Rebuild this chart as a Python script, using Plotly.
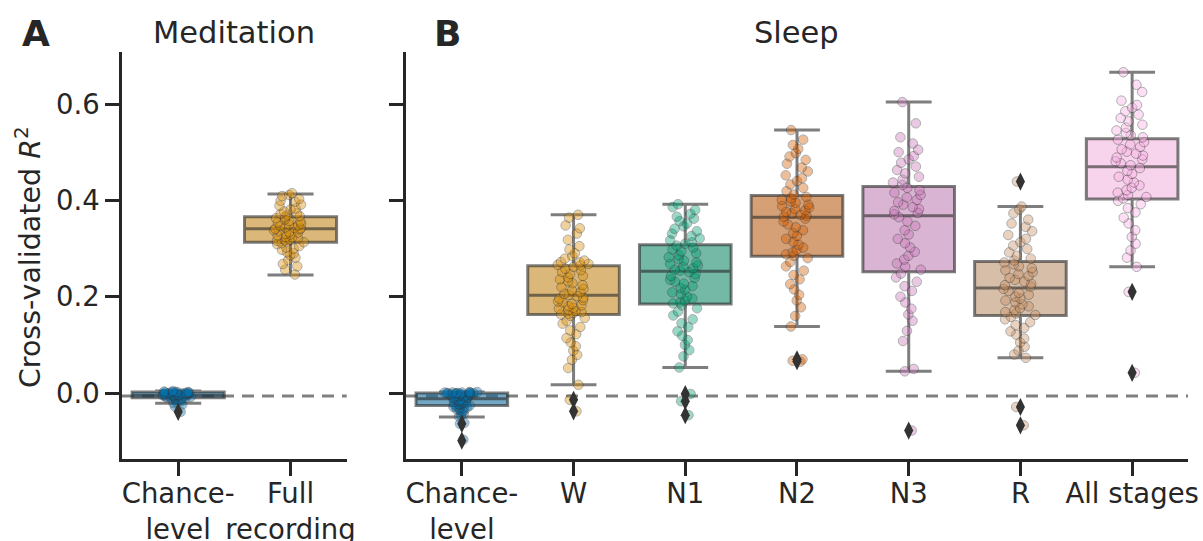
import colorsys
import plotly.graph_objects as go

FONT = "DejaVu Sans"
INK = "#262626"

# ---------------- categories / labels ----------------
med_cats = ["Chance-level", "Full recording"]
med_labels = ["Chance-<br>level", "Full<br>recording"]
sleep_cats = ["Chance-level", "W", "N1", "N2", "N3", "R", "All stages"]
sleep_labels = ["Chance-<br>level", "W", "N1", "N2", "N3", "R", "All stages"]

med_colors = ["#0173b2", "#de8f05"]
sleep_colors = ["#0173b2", "#de8f05", "#029e73", "#d55e00", "#cc78bc", "#ca9161", "#fbafe4"]

# ---------------- box statistics ----------------
med_q1 = [-0.010, 0.313]
med_median = [-0.005, 0.341]
med_q3 = [0.002, 0.366]
med_low = [-0.021, 0.245]
med_high = [0.004, 0.413]

sleep_q1 = [-0.026, 0.163, 0.185, 0.284, 0.252, 0.161, 0.403]
sleep_median = [-0.012, 0.203, 0.253, 0.365, 0.368, 0.218, 0.470]
sleep_q3 = [0.000, 0.264, 0.308, 0.410, 0.429, 0.273, 0.528]
sleep_low = [-0.050, 0.017, 0.053, 0.138, 0.045, 0.073, 0.262]
sleep_high = [0.002, 0.370, 0.392, 0.546, 0.604, 0.387, 0.666]

# ---------------- outliers ----------------
med_out_cat = ["Chance-level"]
med_out_val = [-0.039]
sleep_out_cat = ["Chance-level", "Chance-level", "W", "W", "N1", "N1", "N1",
                 "N2", "N2", "N3", "R", "R", "R", "All stages", "All stages"]
sleep_out_val = [-0.064, -0.099, -0.014, -0.038, -0.002, -0.017, -0.046,
                 0.066, 0.070, -0.078, 0.439, -0.029, -0.067, 0.210, 0.042]

# ---------------- individual subject values ----------------
med_chance_pts = [0.003, 0.002, 0.001, 0.002, 0.000, -0.001, 0.002, 0.001, -0.002, -0.003,
                  0.000, -0.004, -0.005, -0.006, -0.005, -0.004, -0.007, -0.006, -0.005, -0.008,
                  -0.009, -0.010, -0.011, -0.012, -0.013, -0.015, -0.017, -0.019, -0.021, -0.039,
                  -0.003, -0.001, 0.001, -0.006, -0.008, -0.010, -0.014, -0.002, -0.004, -0.007,
                  0.004, -0.024, -0.028, 0.000, -0.003]
med_full_pts = [0.415, 0.411, 0.409, 0.403, 0.399, 0.397, 0.391, 0.389, 0.383, 0.381,
                0.377, 0.373, 0.372, 0.369, 0.367, 0.365, 0.363, 0.360, 0.357, 0.356,
                0.354, 0.351, 0.350, 0.348, 0.347, 0.344, 0.343, 0.342, 0.341, 0.340,
                0.338, 0.337, 0.334, 0.333, 0.330, 0.329, 0.327, 0.324, 0.323, 0.321,
                0.318, 0.317, 0.316, 0.314, 0.313, 0.311, 0.309, 0.305, 0.302, 0.300,
                0.297, 0.292, 0.290, 0.286, 0.281, 0.276, 0.268, 0.263, 0.256, 0.246]

sleep_chance_pts = [0.002, 0.001, 0.000, 0.001, 0.002, 0.000, 0.001, 0.000, -0.001, 0.001,
                    -0.001, -0.002, -0.003, -0.004, -0.005, -0.006, -0.007, -0.008, -0.009, -0.010,
                    -0.011, -0.002, -0.004, -0.006, -0.013, -0.014, -0.015, -0.016, -0.017, -0.018,
                    -0.019, -0.020, -0.021, -0.022, -0.023, -0.024, -0.025, -0.026, -0.028, -0.030,
                    -0.032, -0.034, -0.037, -0.040, -0.043, -0.046, -0.049, -0.062, -0.064, -0.097,
                    -0.029, -0.031, -0.035, -0.001, 0.000]
w_pts = [0.370, 0.364, 0.348, 0.342, 0.331, 0.318, 0.305, 0.298, 0.290, 0.284,
         0.279, 0.275, 0.271, 0.268, 0.266, 0.265, 0.272, 0.262, 0.258, 0.255,
         0.251, 0.247, 0.243, 0.240, 0.236, 0.232, 0.228, 0.224, 0.220, 0.216,
         0.213, 0.209, 0.206, 0.204, 0.201, 0.198, 0.196, 0.193, 0.190, 0.188,
         0.185, 0.182, 0.180, 0.177, 0.175, 0.172, 0.170, 0.168, 0.166, 0.164,
         0.163, 0.160, 0.156, 0.150, 0.144, 0.137, 0.130, 0.122, 0.114, 0.105,
         0.097, 0.088, 0.079, 0.069, 0.052, 0.017, -0.014, -0.038]
n1_pts = [0.392, 0.386, 0.380, 0.372, 0.366, 0.362, 0.357, 0.352, 0.346, 0.341,
          0.336, 0.331, 0.326, 0.321, 0.317, 0.313, 0.310, 0.306, 0.302, 0.298,
          0.294, 0.290, 0.286, 0.282, 0.278, 0.275, 0.271, 0.268, 0.265, 0.262,
          0.259, 0.256, 0.254, 0.251, 0.247, 0.243, 0.239, 0.235, 0.231, 0.227,
          0.222, 0.218, 0.214, 0.209, 0.205, 0.200, 0.196, 0.192, 0.188, 0.186,
          0.182, 0.176, 0.169, 0.161, 0.153, 0.145, 0.137, 0.128, 0.119, 0.110,
          0.100, 0.089, 0.076, 0.053, -0.002, -0.017, -0.046]
n2_pts = [0.546, 0.526, 0.515, 0.507, 0.498, 0.491, 0.484, 0.476, 0.468, 0.460,
          0.452, 0.446, 0.440, 0.433, 0.426, 0.419, 0.412, 0.407, 0.404, 0.401,
          0.398, 0.395, 0.391, 0.388, 0.385, 0.382, 0.379, 0.376, 0.373, 0.370,
          0.368, 0.366, 0.362, 0.356, 0.350, 0.344, 0.338, 0.332, 0.326, 0.320,
          0.314, 0.308, 0.302, 0.297, 0.292, 0.288, 0.285, 0.280, 0.272, 0.263,
          0.254, 0.245, 0.236, 0.226, 0.215, 0.204, 0.192, 0.178, 0.160, 0.138,
          0.070, 0.067, 0.065]
n3_pts = [0.604, 0.560, 0.531, 0.518, 0.505, 0.500, 0.492, 0.485, 0.478, 0.470,
          0.463, 0.456, 0.449, 0.443, 0.437, 0.432, 0.426, 0.421, 0.416, 0.411,
          0.406, 0.401, 0.396, 0.391, 0.386, 0.382, 0.378, 0.374, 0.371, 0.365,
          0.356, 0.347, 0.338, 0.329, 0.320, 0.311, 0.302, 0.293, 0.285, 0.277,
          0.269, 0.262, 0.256, 0.248, 0.240, 0.231, 0.222, 0.212, 0.200, 0.188,
          0.175, 0.163, 0.150, 0.129, 0.108, 0.050, 0.045, -0.078]
r_pts = [0.439, 0.387, 0.381, 0.373, 0.360, 0.352, 0.345, 0.336, 0.328, 0.320,
         0.313, 0.306, 0.299, 0.292, 0.285, 0.279, 0.275, 0.271, 0.267, 0.263,
         0.259, 0.255, 0.251, 0.247, 0.243, 0.239, 0.235, 0.231, 0.227, 0.224,
         0.221, 0.216, 0.212, 0.208, 0.204, 0.200, 0.196, 0.192, 0.188, 0.184,
         0.180, 0.176, 0.172, 0.168, 0.165, 0.162, 0.158, 0.153, 0.147, 0.141,
         0.135, 0.128, 0.121, 0.113, 0.105, 0.096, 0.088, 0.080, 0.073, -0.029,
         -0.067]
all_pts = [0.666, 0.640, 0.625, 0.607, 0.598, 0.592, 0.585, 0.578, 0.571, 0.564,
           0.557, 0.551, 0.545, 0.540, 0.535, 0.531, 0.526, 0.521, 0.516, 0.511,
           0.506, 0.501, 0.497, 0.493, 0.489, 0.485, 0.481, 0.477, 0.473, 0.467,
           0.461, 0.455, 0.449, 0.443, 0.437, 0.431, 0.426, 0.421, 0.416, 0.411,
           0.407, 0.404, 0.399, 0.392, 0.384, 0.375, 0.364, 0.352, 0.338, 0.324,
           0.310, 0.296, 0.281, 0.262, 0.210, 0.042]

med_pts = [med_chance_pts, med_full_pts]
sleep_pts = [sleep_chance_pts, w_pts, n1_pts, n2_pts, n3_pts, r_pts, all_pts]

chance_line = -0.006


def rgba(hexc, a, sat=1.0):
    h = hexc.lstrip("#")
    r, g, b = int(h[0:2], 16) / 255, int(h[2:4], 16) / 255, int(h[4:6], 16) / 255
    if sat != 1.0:
        hh, ll, ss = colorsys.rgb_to_hls(r, g, b)
        r, g, b = colorsys.hls_to_rgb(hh, ll, ss * sat)
    return f"rgba({round(r * 255)},{round(g * 255)},{round(b * 255)},{a})"


BOX_W = 0.82
fig = go.Figure()


def add_panel(cats, colors, q1, med, q3, lo, hi, pts, out_cat, out_val, xa, ya):
    # boxes
    for i, c in enumerate(cats):
        fig.add_trace(go.Box(
            x=[c], q1=[q1[i]], median=[med[i]], q3=[q3[i]],
            lowerfence=[lo[i]], upperfence=[hi[i]],
            boxpoints=False, width=BOX_W, whiskerwidth=0.5,
            fillcolor=rgba(colors[i], 0.6, sat=0.75),
            line=dict(color="rgba(40,40,40,0.6)", width=3),
            xaxis=xa, yaxis=ya, showlegend=False, hoverinfo="skip"))
    # outliers
    fig.add_trace(go.Scatter(
        x=out_cat, y=out_val, mode="markers",
        marker=dict(symbol="diamond-tall", size=13, color="#333333"),
        xaxis=xa, yaxis=ya, showlegend=False, hoverinfo="skip"))
    # strip points
    for i, c in enumerate(cats):
        fig.add_trace(go.Box(
            x=[c] * len(pts[i]), y=pts[i],
            boxpoints="all", jitter=0.4, pointpos=0, width=BOX_W,
            fillcolor="rgba(0,0,0,0)",
            line=dict(color="rgba(0,0,0,0)", width=0),
            marker=dict(size=9.5, color=colors[i], opacity=0.4,
                        line=dict(color="#333333", width=1)),
            xaxis=xa, yaxis=ya, showlegend=False, hoverinfo="y"))


add_panel(med_cats, med_colors, med_q1, med_median, med_q3, med_low, med_high,
          med_pts, med_out_cat, med_out_val, "x", "y")
add_panel(sleep_cats, sleep_colors, sleep_q1, sleep_median, sleep_q3, sleep_low, sleep_high,
          sleep_pts, sleep_out_cat, sleep_out_val, "x2", "y2")

axis_common = dict(showline=True, linewidth=2.5, linecolor=INK, ticks="outside",
                   ticklen=14, tickwidth=2.5, tickcolor=INK, showgrid=False,
                   zeroline=False, automargin=False, tickangle=0,
                   tickfont=dict(family=FONT, size=27.5, color=INK))

yr = [-0.137, 0.708]
fig.update_layout(
    width=1203, height=541,
    margin=dict(l=122, r=15, t=52, b=82),
    paper_bgcolor="white", plot_bgcolor="white",
    boxmode="overlay",
    font=dict(family=FONT, color=INK),
    xaxis=dict(domain=[0, 0.2108], anchor="y", type="category",
               categoryorder="array", categoryarray=med_cats, ticklabelstandoff=-6,
               tickvals=med_cats, ticktext=med_labels, range=[-0.5, 1.5], **axis_common),
    xaxis2=dict(domain=[0.2664, 1], anchor="y2", type="category",
                categoryorder="array", categoryarray=sleep_cats, ticklabelstandoff=-6,
                tickvals=sleep_cats, ticktext=sleep_labels, range=[-0.5, 6.5], **axis_common),
    yaxis=dict(domain=[0, 1], anchor="x", range=yr, tickvals=[0.0, 0.2, 0.4, 0.6],
               ticktext=["0.0", "0.2", "0.4", "0.6"], **axis_common),
    yaxis2=dict(domain=[0, 1], anchor="x2", range=yr, tickvals=[0.0, 0.2, 0.4, 0.6],
                showticklabels=False, **axis_common),
)

for xr, yref in [("x domain", "y"), ("x2 domain", "y2")]:
    fig.add_shape(type="line", xref=xr, yref=yref, x0=0, x1=1, y0=chance_line, y1=chance_line,
                  line=dict(color="#808080", width=3, dash="12px,8px"), layer="below")

ann = []
ann.append(dict(text="Meditation", x=0.105, y=1.047, xref="paper", yref="paper",
                showarrow=False, xanchor="center", yanchor="middle",
                font=dict(family=FONT, size=30.5, color=INK)))
ann.append(dict(text="Sleep", x=0.6332, y=1.047, xref="paper", yref="paper",
                showarrow=False, xanchor="center", yanchor="middle",
                font=dict(family=FONT, size=30.5, color=INK)))
ann.append(dict(text="<b>A</b>", x=-0.0807, y=1.045, xref="paper", yref="paper",
                showarrow=False, xanchor="center", yanchor="middle",
                font=dict(family=FONT, size=36, color=INK)))
ann.append(dict(text="<b>B</b>", x=0.3058, y=1.045, xref="paper", yref="paper",
                showarrow=False, xanchor="center", yanchor="middle",
                font=dict(family=FONT, size=36, color=INK)))
ann.append(dict(text="Cross-validated <i>R</i><sup>2</sup>", x=-0.0882, y=0.496,
                xref="paper", yref="paper", showarrow=False, textangle=-90,
                xanchor="center", yanchor="middle",
                font=dict(family=FONT, size=28.5, color=INK)))
fig.update_layout(annotations=ann)

fig.write_html("out.html", config={"displayModeBar": False},
               post_script="document.body.style.margin='0';document.body.style.overflow='hidden';")
